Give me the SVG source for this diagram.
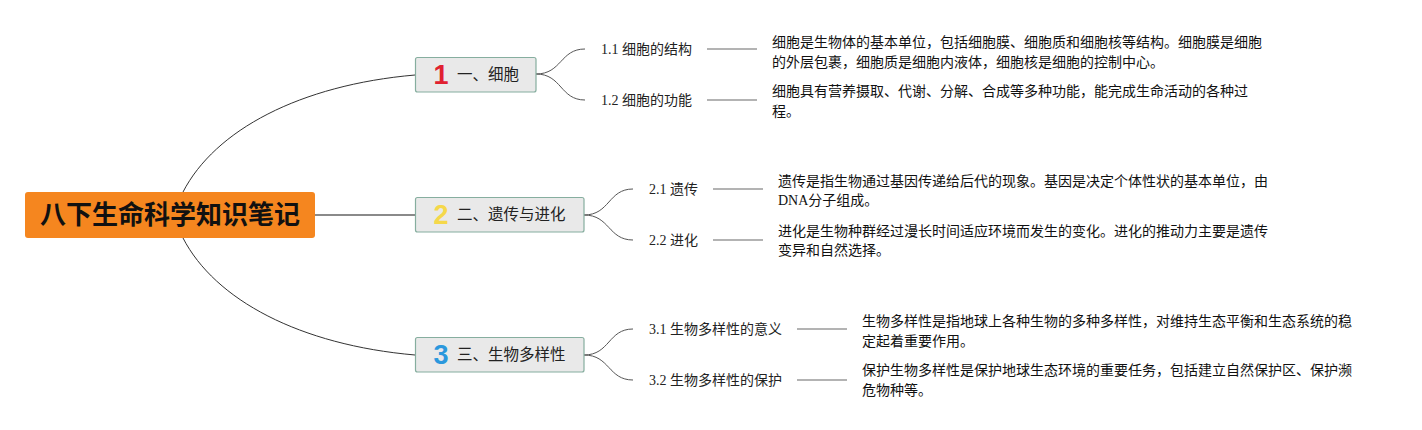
<svg xmlns="http://www.w3.org/2000/svg" width="1422" height="430" viewBox="0 0 1422 430">
<style>
.root{fill:#F5861F}
.rt{font-family:"Noto Sans CJK SC",sans-serif;font-weight:bold;font-size:26px;fill:#111}
.box{fill:#E9E9E9;stroke:#86AE9F;stroke-width:1.2}
.bt{font-family:"Noto Sans CJK SC",sans-serif;font-size:15.5px;fill:#222}
.num{font-family:"Liberation Sans","DejaVu Sans",sans-serif;font-weight:bold;font-size:27px}
.lt{font-family:"Liberation Serif","Noto Sans CJK SC",serif;font-size:14px;fill:#222}
.dt{font-family:"Liberation Serif","Noto Sans CJK SC",serif;font-size:14px;fill:#111}
.main{fill:none;stroke:#333;stroke-width:1}
.mid{fill:none;stroke:#8a8a8a;stroke-width:2}
.sub{fill:none;stroke:#555;stroke-width:1}
.dash{fill:none;stroke:#9a9a9a;stroke-width:1.6}
</style>
<g id="connectors">
<path class="main" d="M183,192 C215,130 300,85 415,75"/>
<path class="mid" d="M315,215 L415,215"/>
<path class="main" d="M183,238 C215,300 300,345 415,355"/>
<path class="sub" d="M536,74 C562,74 560,49 585,49"/>
<path class="sub" d="M536,74 C562,74 560,100 585,100"/>
<path class="sub" d="M584,215 C610,215 608,189 633,189"/>
<path class="sub" d="M584,215 C610,215 608,240 633,240"/>
<path class="sub" d="M584,355 C610,355 608,329 633,329"/>
<path class="sub" d="M584,355 C610,355 608,380 633,380"/>
<path class="dash" d="M707,49 H757 M707,100 H757 M713,189 H763 M713,240 H763 M797,329 H847 M797,380 H847"/>
</g>
<g id="root">
<rect class="root" x="25" y="192" width="290" height="46" rx="3"/>
<text class="rt" x="170" y="224" text-anchor="middle">八下生命科学知识笔记</text>
</g>
<g id="n1">
<rect class="box" x="415.5" y="57.5" width="120.5" height="34.5" rx="2"/>
<text class="num" x="441" y="84" text-anchor="middle" fill="#E02130">1</text>
<text class="bt" x="457" y="80">一、细胞</text>
</g>
<g id="n2">
<rect class="box" x="415.5" y="197.5" width="168.5" height="34.5" rx="2"/>
<text class="num" x="441" y="224" text-anchor="middle" fill="#F5D84A">2</text>
<text class="bt" x="457" y="220">二、遗传与进化</text>
</g>
<g id="n3">
<rect class="box" x="415.5" y="337.5" width="168.5" height="34.5" rx="2"/>
<text class="num" x="441" y="364" text-anchor="middle" fill="#2B98DD">3</text>
<text class="bt" x="457" y="360">三、生物多样性</text>
</g>
<g id="n11">
<text class="lt" x="601" y="54">1.1 细胞的结构</text>
</g>
<g id="n12">
<text class="lt" x="601" y="105">1.2 细胞的功能</text>
</g>
<g id="n21">
<text class="lt" x="649" y="194">2.1 遗传</text>
</g>
<g id="n22">
<text class="lt" x="649" y="245">2.2 进化</text>
</g>
<g id="n31">
<text class="lt" x="649" y="334">3.1 生物多样性的意义</text>
</g>
<g id="n32">
<text class="lt" x="649" y="385">3.2 生物多样性的保护</text>
</g>
<g id="d11">
<text class="dt" x="772" y="47">细胞是生物体的基本单位，包括细胞膜、细胞质和细胞核等结构。细胞膜是细胞</text>
<text class="dt" x="772" y="67">的外层包裹，细胞质是细胞内液体，细胞核是细胞的控制中心。</text>
</g>
<g id="d12">
<text class="dt" x="772" y="96">细胞具有营养摄取、代谢、分解、合成等多种功能，能完成生命活动的各种过</text>
<text class="dt" x="772" y="116">程。</text>
</g>
<g id="d21">
<text class="dt" x="778" y="186">遗传是指生物通过基因传递给后代的现象。基因是决定个体性状的基本单位，由</text>
<text class="dt" x="778" y="205">DNA分子组成。</text>
</g>
<g id="d22">
<text class="dt" x="778" y="236">进化是生物种群经过漫长时间适应环境而发生的变化。进化的推动力主要是遗传</text>
<text class="dt" x="778" y="255">变异和自然选择。</text>
</g>
<g id="d31">
<text class="dt" x="862" y="326">生物多样性是指地球上各种生物的多种多样性，对维持生态平衡和生态系统的稳</text>
<text class="dt" x="862" y="346">定起着重要作用。</text>
</g>
<g id="d32">
<text class="dt" x="862" y="375">保护生物多样性是保护地球生态环境的重要任务，包括建立自然保护区、保护濒</text>
<text class="dt" x="862" y="395">危物种等。</text>
</g>
</svg>
